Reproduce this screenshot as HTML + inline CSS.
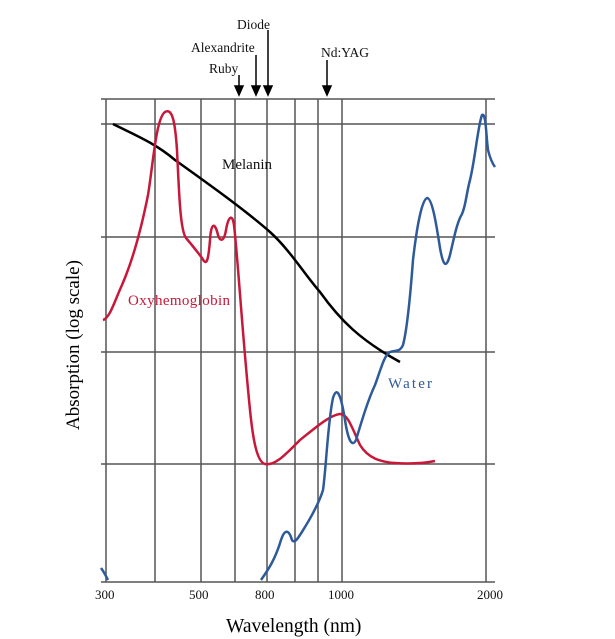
<!DOCTYPE html>
<html><head><style>
html,body{margin:0;padding:0;background:#fff;}
svg{display:block;font-family:"Liberation Serif",serif;}
</style></head><body>
<svg width="615" height="639" viewBox="0 0 615 639" xmlns="http://www.w3.org/2000/svg">
<g stroke="#555" stroke-width="1.5" fill="none">
<line x1="101" y1="99" x2="495" y2="99"/>
<line x1="101" y1="124" x2="495" y2="124"/>
<line x1="101" y1="237" x2="495" y2="237"/>
<line x1="101" y1="352" x2="495" y2="352"/>
<line x1="101" y1="464" x2="495" y2="464"/>
<line x1="101" y1="582" x2="495" y2="582"/>
<line x1="106" y1="99" x2="106" y2="582"/>
<line x1="155" y1="99" x2="155" y2="582"/>
<line x1="201" y1="99" x2="201" y2="582"/>
<line x1="235" y1="99" x2="235" y2="582"/>
<line x1="267" y1="99" x2="267" y2="582"/>
<line x1="295" y1="99" x2="295" y2="582"/>
<line x1="318" y1="99" x2="318" y2="582"/>
<line x1="342" y1="99" x2="342" y2="582"/>
<line x1="486" y1="99" x2="486" y2="582"/>
</g>
<g stroke="#000" stroke-width="1.5">
<line x1="239" y1="75" x2="239" y2="92"/><polygon points="235,86 243,86 239,95" fill="#000"/>
<line x1="256" y1="55" x2="256" y2="92"/><polygon points="252,86 260,86 256,95" fill="#000"/>
<line x1="268" y1="30" x2="268" y2="92"/><polygon points="264,86 272,86 268,95" fill="#000"/>
<line x1="327" y1="60" x2="327" y2="92"/><polygon points="323,86 331,86 327,95" fill="#000"/>
</g>
<g font-size="13.5" fill="#111">
<text x="237" y="29">Diode</text>
<text x="191" y="52">Alexandrite</text>
<text x="209" y="73">Ruby</text>
<text x="321" y="57">Nd:YAG</text>
</g>
<g font-size="15" fill="#111">
<text x="222" y="169">Melanin</text>
<text x="388" y="388" fill="#2e5a9a" textLength="44">Water</text>
<text x="128" y="305" fill="#c8183a" textLength="102">Oxyhemoglobin</text>
</g>
<g font-size="13" fill="#111">
<text x="95" y="599">300</text>
<text x="189" y="599">500</text>
<text x="255" y="599">800</text>
<text x="328" y="599">1000</text>
<text x="477" y="599">2000</text>
</g>
<text x="226" y="632" font-size="19.5">Wavelength (nm)</text>
<text transform="translate(79,430) rotate(-90)" font-size="19">Absorption (log scale)</text>
<path d="M113,124 C135,135 155,143 175,160 C210,185 245,210 270,232 C290,250 305,275 320,292 C340,320 360,340 400,362" stroke="#000" stroke-width="2.5" fill="none"/>
<path d="M103,320 C110,318 115,300 122,285 C132,262 140,235 148,195 C153,165 156,118 165,112 C172,108 175,120 177,150 C179,190 180,230 186,238 C192,245 196,250 202,258 C206,265 208,265 210,240 C211,222 215,222 218,235 C220,242 224,242 226,230 C228,218 232,212 234,225 C238,260 242,330 250,410 C253,440 257,462 265,464 C275,466 285,455 300,440 C315,428 330,415 340,414 C348,414 352,428 360,445 C368,458 380,462 395,463 C410,464 425,463 435,461" stroke="#c8183a" stroke-width="2.5" fill="none"/>
<path d="M101,568 C104,572 106,576 108,580" stroke="#2e5a9a" stroke-width="2.5" fill="none"/>
<path d="M261,580 C268,570 275,560 281,540 C285,528 289,530 292,540 C295,545 300,535 308,522 C315,510 320,500 323,490 C326,470 328,420 333,398 C337,385 341,395 345,420 C348,440 352,448 356,440 C362,420 368,400 375,385 C380,372 384,355 390,352 C396,350 400,352 403,345 C407,330 410,300 413,260 C417,225 422,200 427,198 C432,198 436,222 440,248 C443,265 446,270 450,255 C454,238 457,222 462,214 C466,205 466,195 470,180 C475,160 478,125 482,115 C486,112 486,135 488,150 C490,158 492,163 495,167" stroke="#2e5a9a" stroke-width="2.5" fill="none"/>
</svg>
</body></html>
